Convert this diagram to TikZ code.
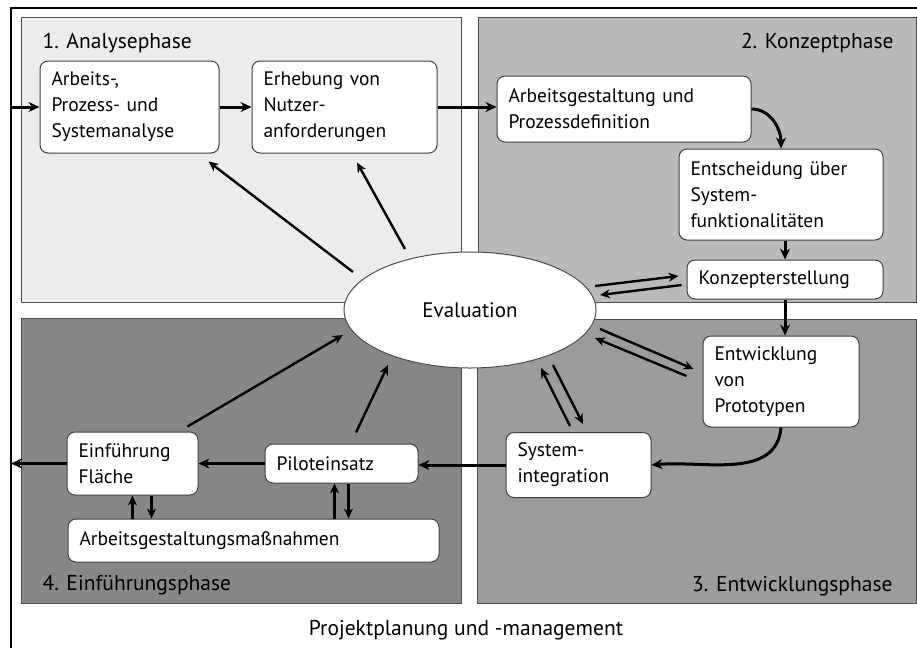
\documentclass[tikz,border=0pt]{standalone}
\usepackage{fontspec}
\setmainfont{PT Sans}
\usetikzlibrary{arrows.meta,positioning,calc,shapes.geometric}
\definecolor{phaseOne}{gray}{0.925}
\definecolor{phaseTwo}{gray}{0.73}
\definecolor{phaseThree}{gray}{0.61}
\definecolor{phaseFour}{gray}{0.53}
\definecolor{phaseLine}{gray}{0.3}
\newcommand{\boxfont}{\fontsize{19.5pt}{26pt}\selectfont}
\newcommand{\phasefont}{\fontsize{21.5pt}{26pt}\selectfont}

\begin{document}
\begin{tikzpicture}[x=1pt,y=-1pt,
  phase/.style={draw=phaseLine,line width=0.8pt,fill=#1},
  box/.style={rectangle,rounded corners=8pt,draw=black!75,line width=1pt,fill=white,
              inner xsep=11.5pt,inner ysep=0pt,align=left,font=\boxfont},
  flow/.style={-{Stealth[length=11pt,width=10pt]},line width=3pt},
  eva/.style={-{Stealth[length=10pt,width=9pt]},line width=2.4pt}
]
\useasboundingbox (0,0) rectangle (917,648);
% Frame
\draw[line width=2.8pt] (11,648) -- (11,8) -- (917,8);
% Phases
\draw[phase=phaseOne] (21,17) rectangle (461,302);
\draw[phase=phaseTwo] (478,17) rectangle (916,302);
\draw[phase=phaseThree] (477,319) rectangle (916,603);
\draw[phase=phaseFour] (21,318) rectangle (461,603);
\node[font=\phasefont,anchor=base west] (ph1) at (39,48) {1. Analysephase};
\node[font=\phasefont,anchor=base east] (ph2) at (897,48) {2. Konzeptphase};
\node[font=\phasefont,anchor=base east] (ph3) at (896,591) {3. Entwicklungsphase};
\node[font=\phasefont,anchor=base west] (ph4) at (39,590) {4. Einführungsphase};
\node[font=\phasefont,anchor=base] (pm) at (466,635) {Projektplanung und -management};
% Evaluation
\node[ellipse,draw=black!70,line width=1pt,fill=white,minimum width=252pt,minimum height=116pt,
      font=\fontsize{21pt}{26pt}\selectfont] (Ev) at (470,310) {Evaluation};
% 1. Analysephase
\node[box,text width=156pt,minimum height=92pt] (A1) at (129.5,107) {Arbeits-,\\Prozess- und\\Systemanalyse};
\node[box,text width=162pt,minimum height=92pt] (A2) at (344.5,107) {Erhebung von\\Nutzer-\\anforderungen};
% 2. Konzeptphase
\node[box,text width=231pt,minimum height=66pt] (K1) at (624,109) {Arbeitsgestaltung und\\Prozessdefinition};
\node[box,text width=181pt,minimum height=91pt] (K2) at (781,194.5) {Entscheidung über\\System-\\funktionalitäten};
\node[box,text width=173pt,minimum height=39pt] (K3) at (785,279.5) {Konzepterstellung};
% 3. Entwicklungsphase
\node[box,text width=133pt,minimum height=91pt] (E1) at (781,381.5) {Entwicklung\\von\\Prototypen};
\node[box,text width=122pt,minimum height=65pt] (S) at (578.5,465) {System-\\integration};
% 4. Einfuehrungsphase
\node[box,text width=130pt,minimum height=39pt] (P) at (341.5,463.5) {Piloteinsatz};
\node[box,text width=108pt,minimum height=63pt] (F) at (132.5,463.5) {Einführung\\Fläche};
\node[box,text width=348pt,minimum height=43pt] (AM) at (253.5,540.5) {Arbeitsgestaltungsmaßnahmen};
% Main flow
\coordinate (inL) at (11,107);
\coordinate (outL) at (11,463.5);
\draw[flow] (inL) -- (A1);
\draw[flow] (A1) -- (A2);
\draw[flow] (A2.east) -- (A2.east -| K1.west);
\draw[flow] (K1.east) to[out=0,in=90] (K2.north);
\draw[flow] (K3.north |- K2.south) -- (K3.north);
\draw[flow] (K3.south) -- (K3.south |- E1.north);
\draw[flow] (E1.south) to[out=-95,in=5] (S.east);
\draw[flow] (S.west) -- (S.west -| P.east);
\draw[flow] (P.west) -- (P.west -| F.east);
\draw[flow] (F.west) -- (outL);
% Arbeitsgestaltungsmassnahmen
\draw[eva] (F.south |- AM.north) -- (F.south);
\draw[eva] ([xshift=19]F.south) -- ([xshift=19]F.south |- AM.north);
\draw[eva] ([xshift=-7]P.south |- AM.north) -- ([xshift=-7]P.south);
\draw[eva] ([xshift=7]P.south) -- ([xshift=7]P.south |- AM.north);
% Evaluation arrows
\draw[eva] ([shift={(-117,-38)}]Ev.center) -- ([shift={(-11,8)}]A1.south east);
\draw[eva] ([shift={(-65,-61)}]Ev.center) -- ([shift={(12.5,9)}]A2.south);
\draw[eva] ([shift={(-11,-5)}]F.north east) -- ([shift={(-127,25)}]Ev.center);
\draw[eva] ([shift={(14.5,-11)}]P.north) -- ([shift={(-82,55)}]Ev.center);
\draw[eva] ([shift={(125,-24)}]Ev.center) -- ([shift={(-8,-3.5)}]K3.west);
\draw[eva] ([shift={(-5,5.5)}]K3.west) -- ([shift={(130,-15)}]Ev.center);
\draw[eva] ([shift={(130,19)}]Ev.center) -- ([shift={(-9,-12.5)}]E1.west);
\draw[eva] ([shift={(-16,-5.5)}]E1.west) -- ([shift={(125,28)}]Ev.center);
\draw[eva] ([shift={(-8.5,-6)}]S.north) -- ([shift={(71,58)}]Ev.center);
\draw[eva] ([shift={(83,55)}]Ev.center) -- ([shift={(4.5,-8)}]S.north);
\end{tikzpicture}
\end{document}
